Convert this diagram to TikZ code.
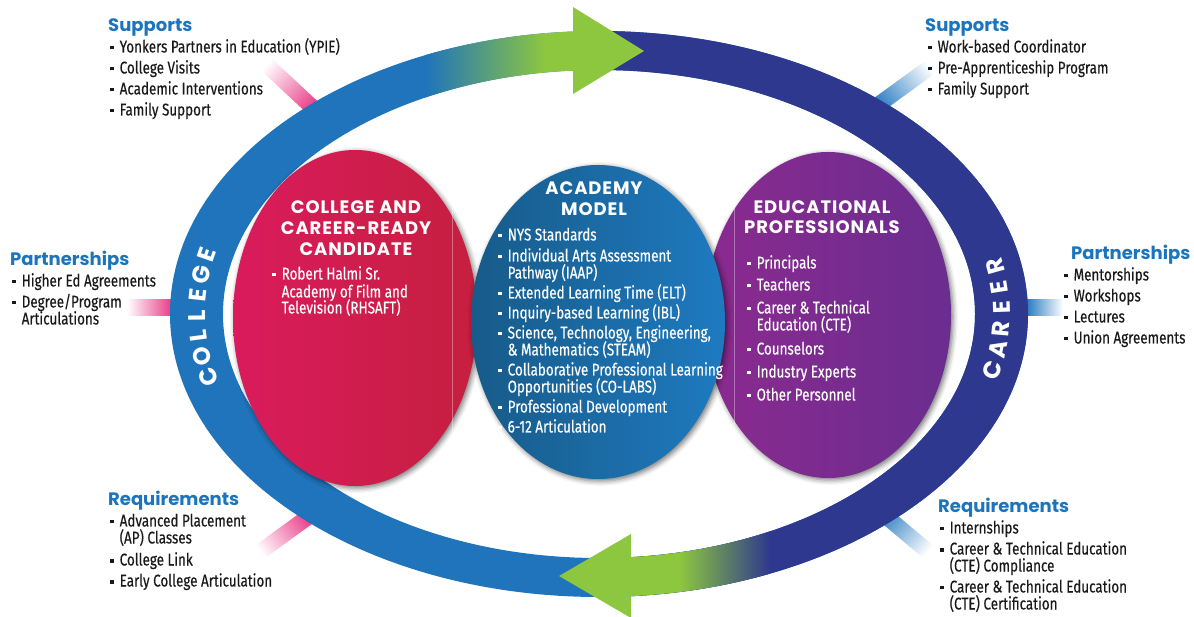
\documentclass[tikz,border=0pt]{standalone}
\usepackage{fontspec}
\setmainfont{Fira Sans}[FakeStretch=0.79, FakeBold=0.4]
\newfontfamily\headfont{Poppins}
\usetikzlibrary{shadows.blur}
\definecolor{ringblue}{HTML}{1F74BB}
\definecolor{navy}{HTML}{2E388F}
\definecolor{agreen}{HTML}{8DC63F}
\definecolor{hblue}{HTML}{1C75BC}
\definecolor{pinkL}{HTML}{DA1B5D}
\definecolor{pinkR}{HTML}{C51F3F}
\definecolor{blueL}{HTML}{175B89}
\definecolor{blueR}{HTML}{1E7AC0}
\definecolor{purL}{HTML}{8B2A8F}
\definecolor{purR}{HTML}{6A2D8F}
\definecolor{stubpink}{HTML}{EA3E88}
\definecolor{stubblue}{HTML}{2A7CC1}
\newcommand\bfnt{\fontsize{17}{17}\selectfont}
\newcommand\hfnt{\headfont\bfseries\fontsize{18}{18}\selectfont}
\newcommand\ehfnt{\headfont\bfseries\fontsize{18}{21}\selectfont\addfontfeature{LetterSpace=5}}
\newcommand\bu{\makebox[9.5pt][l]{\rule[3pt]{3.6pt}{3.6pt}}}
\newcommand\ind{\hspace*{9.5pt}}
\newcommand\mylist[4]{%
  \foreach \yy/\b/\tx [count=\i] in {#4} {\node[#2] (#3\i) at (#1,{616-\yy}) {\ifnum\b=1 \bu\else\ind\fi\tx};}}
\newcommand\stub[5]{% origin x, origin y, angle, length, colour
  \begin{scope}[transform canvas={shift={(#1,#2)},rotate=#3}]
    \fill[#5] (-30,-8) rectangle (0.5,8);
    \shade[left color=#5,right color=white] (0,-8) rectangle (#4,8);
  \end{scope}}
\begin{document}
\begin{tikzpicture}[x=1pt,y=1pt,
  lst/.style={anchor=base west, inner sep=0pt, font=\bfnt, text=black!90},
  wlst/.style={lst, text=white},
  hd/.style={anchor=base west, inner sep=0pt, font=\hfnt, text=hblue},
  eh/.style={anchor=base, inner sep=0pt, font=\ehfnt, text=white, align=center},
  ringtxt/.style={inner sep=0pt, font=\headfont\bfseries\fontsize{24}{24}\selectfont, text=white},
  shad/.style={blur shadow={shadow xshift=2pt, shadow yshift=-2pt, shadow blur radius=5pt, shadow opacity=55}}]
\useasboundingbox (0,0) rectangle (1194,616);
% stubs
\stub{312}{509}{137}{62}{stubpink}
\stub{171}{308}{180}{44}{stubpink}
\stub{308}{99}{216}{59}{stubpink}
\stub{878}{511}{36}{64}{stubblue}
\stub{1027}{308}{0}{36}{stubblue}
\stub{882}{103}{-40}{60}{stubblue}
% ring
\fill[ringblue, even odd rule] (599,302) ellipse [x radius=429, y radius=283] (599,302) ellipse [x radius=376, y radius=244];
\begin{scope}
  \clip (599,-10) rectangle (1194,626);
  \fill[navy, even odd rule] (599,302) ellipse [x radius=429, y radius=283] (599,302) ellipse [x radius=376, y radius=244];
\end{scope}
\begin{scope}[even odd rule]
  \clip (599,302) ellipse [x radius=429, y radius=283] (599,302) ellipse [x radius=376, y radius=244];
  \shade[left color=ringblue, right color=agreen] (425,450) rectangle (545,626);
  \fill[agreen] (544,450) rectangle (580,626);
  \fill[agreen] (625,-10) rectangle (681,150);
  \shade[left color=agreen, right color=navy] (680,-10) rectangle (770,150);
\end{scope}
\fill[agreen] (573,609) -- (644,565) -- (573,522) -- cycle;
\fill[agreen] (631,82) -- (559,40) -- (631,-2) -- cycle;
% ring words (both read upward)
\foreach \l [count=\i from 0] in {C,O,L,L,E,G,E} {
  \pgfmathsetmacro\t{180.4+(3-\i)*4.45}
  \pgfmathsetmacro\r{atan2(-263.5*cos(\t),402.5*sin(\t))}
  \node[ringtxt, rotate=\r] (col\i) at ({599+402.5*cos(\t)},{302+263.5*sin(\t)}) {\l};
}
\foreach \l [count=\i from 0] in {C,A,R,E,E,R} {
  \pgfmathsetmacro\t{-0.9+(\i-2.5)*4.52}
  \pgfmathsetmacro\r{atan2(263.5*cos(\t),-402.5*sin(\t))}
  \node[ringtxt, rotate=\r] (car\i) at ({599+402.5*cos(\t)},{302+263.5*sin(\t)}) {\l};
}
% ellipses
\path[shad, left color=pinkL, right color=pinkR] (355,298) ellipse [x radius=122, y radius=168];
\draw[white, opacity=0.35, line width=0.8pt] (452,429) -- (452,166);
\path[shad, left color=purL, right color=purR] (828,301) ellipse [x radius=123, y radius=163];
\draw[white, opacity=0.35, line width=0.8pt] (734,433) -- (734,179);
\path[shad, left color=blueL, right color=blueR] (598,294) ellipse [x radius=127, y radius=157];
% headings outside
\node[hd] (h1) at (108,{616-31.5}) {Supports};
\node[hd] (h2) at (925,{616-31.5}) {Supports};
\node[hd] (h3) at (10,{616-265.5}) {Partnerships};
\node[hd] (h4) at (1071,{616-259.5}) {Partnerships};
\node[hd] (h5) at (108,{616-505.5}) {Requirements};
\node[hd] (h6) at (938,{616-512.5}) {Requirements};
% lists outside
\mylist{110}{lst}{tl}{52.5/1/Yonkers Partners in Education (YPIE), 73.5/1/College Visits, 94.5/1/Academic Interventions, 115.5/1/Family Support}
\mylist{928}{lst}{tr}{52.5/1/Work-based Coordinator, 73.5/1/Pre-Apprenticeship Program, 94.5/1/Family Support}
\mylist{12}{lst}{lp}{286.5/1/Higher Ed Agreements, 307.5/1/{Degree/Program}, 324.5/0/Articulations}
\mylist{1064}{lst}{rp}{280.5/1/Mentorships, 301.5/1/Workshops, 322.5/1/Lectures, 343.5/1/Union Agreements}
\mylist{110}{lst}{bl}{526.5/1/Advanced Placement, 543.5/0/(AP) Classes, 565.5/1/College Link, 586.5/1/Early College Articulation}
\mylist{940}{lst}{br}{533.5/1/Internships, 554.5/1/Career \& Technical Education, 571.5/0/(CTE) Compliance, 592.5/1/Career \& Technical Education, 609.5/0/(CTE) Certification}
% ellipse headings
\node[eh] (e1a) at (356,{616-214}) {COLLEGE AND};
\node[eh] (e1b) at (356,{616-235}) {CAREER-READY};
\node[eh] (e1c) at (356,{616-256}) {CANDIDATE};
\node[eh] (e2a) at (594,{616-195}) {ACADEMY};
\node[eh] (e2b) at (594,{616-216}) {MODEL};
\node[eh] (e3a) at (822,{616-214}) {EDUCATIONAL};
\node[eh] (e3b) at (822,{616-234}) {PROFESSIONALS};
% ellipse lists
\mylist{272}{wlst}{pk}{279.5/1/Robert Halmi Sr., 297.5/0/Academy of Film and, 313.5/0/Television (RHSAFT)}
\mylist{498}{wlst}{bm}{240.5/1/NYS Standards, 261.5/1/Individual Arts Assessment, 278.5/0/Pathway (IAAP), 298.5/1/Extended Learning Time (ELT), 318.5/1/Inquiry-based Learning (IBL), 338.5/1/{Science, Technology, Engineering,}, 355.5/0/\& Mathematics (STEAM), 375.5/1/Collaborative Professional Learning, 392.5/0/Opportunities (CO-LABS), 412.5/1/Professional Development, 432.5/1/6-12 Articulation}
\mylist{747}{wlst}{pu}{268.5/1/Principals, 290.5/1/Teachers, 313.5/1/Career \& Technical, 330.5/0/Education (CTE), 354.5/1/Counselors, 377.5/1/Industry Experts, 400.5/1/Other Personnel}
\end{tikzpicture}
\end{document}
